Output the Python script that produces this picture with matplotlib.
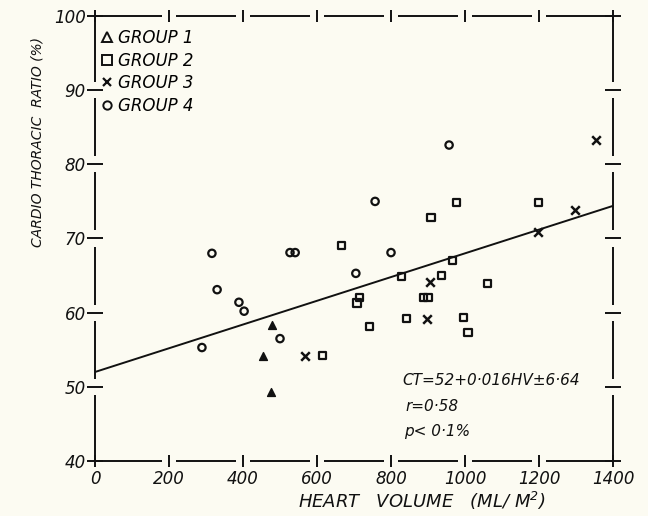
import numpy as np
import matplotlib.pyplot as plt
from matplotlib.lines import Line2D

# heart volume (ML/M^2) and cardio thoracic ratio (%) per group
g1_hv = [478, 455, 476]
g1_ct = [58.3, 54.2, 49.3]

g2_hv = [665, 708, 714, 741, 614, 978, 908, 965, 829, 937, 1062, 887, 900, 843, 997, 1008, 1198]
g2_ct = [69.0, 61.3, 62.0, 58.1, 54.2, 74.8, 72.8, 67.0, 64.9, 65.0, 63.9, 62.0, 62.0, 59.2, 59.4, 57.3, 74.8]

g3_hv = [568, 905, 897, 1354, 1297, 1197]
g3_ct = [54.2, 64.2, 59.2, 83.3, 73.9, 70.9]

g4_hv = [316, 527, 541, 330, 389, 403, 500, 289, 705, 957, 757, 800]
g4_ct = [68.0, 68.1, 68.1, 63.1, 61.4, 60.2, 56.5, 55.3, 65.3, 82.6, 75.0, 68.1]

intercept = 52
slope = 0.016

xticks = [0, 200, 400, 600, 800, 1000, 1200, 1400]
yticks = [40, 50, 60, 70, 80, 90, 100]

plt.rcParams['font.family'] = ['DejaVu Sans']
plt.rcParams['font.style'] = 'italic'
plt.rcParams['mathtext.default'] = 'it'

paper = '#fcfbf2'
ink = '#111111'

fig = plt.figure(figsize=(6.48, 5.16), dpi=100, facecolor=paper)
ax = fig.add_axes([0.1466, 0.1066, 0.7994, 0.8624])
ax.set_facecolor(paper)
ax.set_xlim(0, 1400)
ax.set_ylim(40, 100)

# regression line
xl = np.array([0, 1400])
ax.plot(xl, intercept + slope * xl, color=ink, lw=1.4)

ax.scatter(g1_hv, g1_ct, marker='^', s=32, color=ink, zorder=3)
ax.scatter(g2_hv, g2_ct, marker='s', s=26, facecolors='none', edgecolors=ink, linewidths=1.6, zorder=3)
ax.scatter(g3_hv, g3_ct, marker='x', s=38, color=ink, linewidths=1.8, zorder=3)
ax.scatter(g4_hv, g4_ct, marker='o', s=28, facecolors='none', edgecolors=ink, linewidths=1.6, zorder=3)

# hand drawn frame: spine pieces with gaps at ticks
for s in ax.spines.values():
    s.set_visible(False)
gx = 19
gy = 1.1
for i in range(len(xticks) - 1):
    a = xticks[i] + (gx if i > 0 else 0)
    b = xticks[i + 1] - (gx if i + 1 < len(xticks) - 1 else 0)
    for yy in (40, 100):
        ax.plot([a, b], [yy, yy], color=ink, lw=1.4, clip_on=False, solid_capstyle='butt')
for i in range(len(yticks) - 1):
    a = yticks[i] + (gy if i > 0 else 0)
    b = yticks[i + 1] - (gy if i + 1 < len(yticks) - 1 else 0)
    for xx in (0, 1400):
        ax.plot([xx, xx], [a, b], color=ink, lw=1.4, clip_on=False, solid_capstyle='butt')

ax.set_xticks(xticks)
ax.set_yticks(yticks)
ax.tick_params(axis='x', which='both', direction='inout', length=9, width=1.4,
               top=True, bottom=True, labelsize=12, pad=2, colors=ink)
ax.tick_params(axis='y', which='both', direction='inout', length=11, width=1.4,
               left=True, right=True, labelsize=12, pad=1, colors=ink)

ax.set_xlabel('HEART   VOLUME   (ML/ M$^2$)', fontsize=13, color=ink)
ax.xaxis.set_label_coords(0.63, -0.066)
ax.set_ylabel('CARDIO THORACIC  RATIO (%)', fontsize=10, color=ink)
ax.yaxis.set_label_coords(-0.098, 0.717)

handles = [
    Line2D([], [], ls='none', marker='^', mfc='none', mec=ink, mew=1.4, ms=7),
    Line2D([], [], ls='none', marker='s', mfc='none', mec=ink, mew=1.4, ms=7),
    Line2D([], [], ls='none', marker='x', color=ink, mew=1.6, ms=6),
    Line2D([], [], ls='none', marker='o', mfc='none', mec=ink, mew=1.4, ms=6),
]
ax.legend(handles, ['GROUP 1', 'GROUP 2', 'GROUP 3', 'GROUP 4'], loc='upper left',
          frameon=False, fontsize=12, handlelength=0.6, handletextpad=0.35,
          labelspacing=0.27, borderaxespad=0.2, bbox_to_anchor=(-0.005, 0.993))

ax.text(832, 50.9, 'CT=52+0·016HV±6·64', fontsize=11, color=ink, va='center')
ax.text(840, 47.4, 'r=0·58', fontsize=11, color=ink, va='center')
ax.text(836, 44.0, 'p< 0·1%', fontsize=11, color=ink, va='center')

fig.savefig('out.png', dpi=100, facecolor=paper)
